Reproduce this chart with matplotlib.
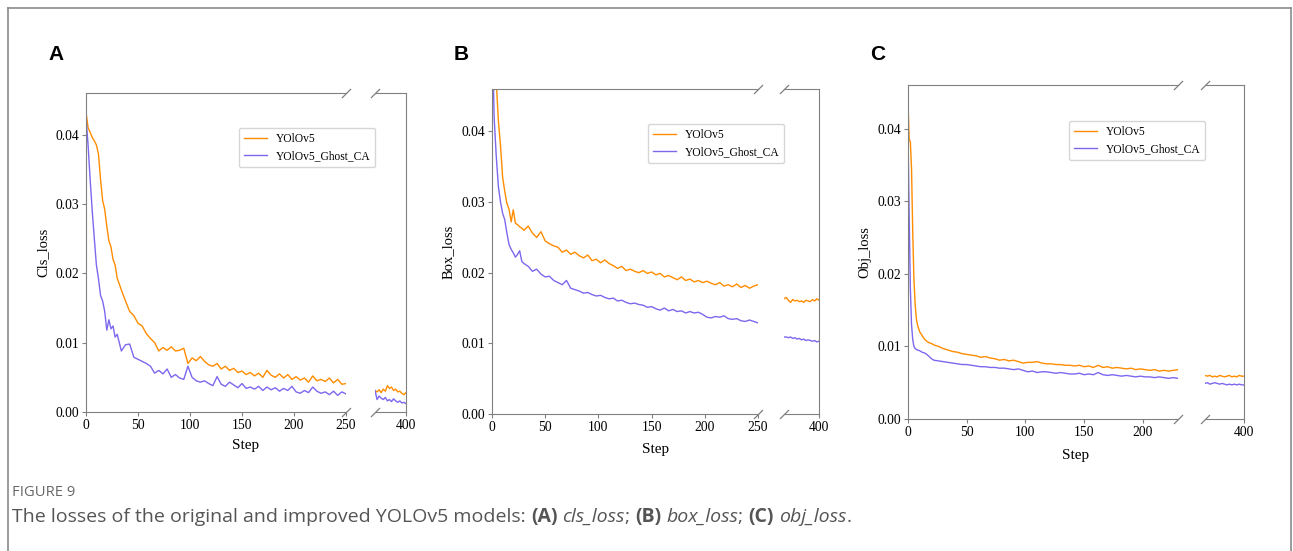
import matplotlib as mpl
mpl.use('Agg')
import matplotlib.pyplot as plt
import matplotlib.ticker as ticker
from matplotlib.lines import Line2D

mpl.rcParams['font.family'] = 'serif'
mpl.rcParams['font.serif'] = ['Liberation Serif', 'DejaVu Serif']

SERIES = ["YOlOv5", "YOlOv5_Ghost_CA"]
COLORS = ['#ff8c00', '#7b68ee']
SPINE = '#808080'

# ---- panel A : cls_loss ----
A_STEPS = [0, 2, 4, 6, 8, 10, 12, 14, 16, 18, 20, 22, 24, 26, 28] + list(range(30, 251, 4))
A_ORANGE = [0.0433, 0.0410, 0.0403, 0.0396, 0.0391, 0.0385, 0.0372, 0.0335, 0.0305, 0.0292,
            0.0268, 0.0247, 0.0238, 0.0220, 0.0212,
            0.0193, 0.0176, 0.0160, 0.0145, 0.0139, 0.0128, 0.0124, 0.0113, 0.0106, 0.0100,
            0.0088, 0.0093, 0.0089, 0.0094, 0.0088, 0.0089, 0.0092, 0.0070, 0.0078, 0.0074,
            0.0080, 0.0073, 0.0068, 0.0066, 0.0070, 0.0062, 0.0066, 0.0060, 0.0063, 0.0057,
            0.0059, 0.0054, 0.0057, 0.0052, 0.0056, 0.0050, 0.0060, 0.0053, 0.0050, 0.0055,
            0.0049, 0.0054, 0.0047, 0.0051, 0.0046, 0.0049, 0.0043, 0.0052, 0.0045, 0.0047,
            0.0044, 0.0049, 0.0042, 0.0047, 0.0040, 0.0041]
A_PURPLE = [0.0425, 0.0385, 0.0335, 0.0290, 0.0250, 0.0212, 0.0192, 0.0168, 0.0160, 0.0145,
            0.0118, 0.0133, 0.0120, 0.0124, 0.0108,
            0.0112, 0.0088, 0.0097, 0.0098, 0.0079, 0.0076, 0.0073, 0.0070, 0.0066, 0.0056,
            0.0060, 0.0055, 0.0062, 0.0050, 0.0054, 0.0049, 0.0047, 0.0066, 0.0050, 0.0045,
            0.0043, 0.0045, 0.0041, 0.0038, 0.0051, 0.0040, 0.0037, 0.0043, 0.0039, 0.0035,
            0.0041, 0.0034, 0.0036, 0.0033, 0.0037, 0.0031, 0.0036, 0.0032, 0.0035, 0.0030,
            0.0034, 0.0031, 0.0037, 0.0029, 0.0027, 0.0031, 0.0028, 0.0036, 0.0030, 0.0027,
            0.0029, 0.0025, 0.0030, 0.0024, 0.0029, 0.0026]
A_TAIL_STEPS = list(range(370, 401, 2))
A_ORANGE_TAIL = [0.0031, 0.0029, 0.0032, 0.0028, 0.0033, 0.0030, 0.0038, 0.0034, 0.0036, 0.0031,
                 0.0033, 0.0029, 0.0030, 0.0027, 0.0025, 0.0028]
A_PURPLE_TAIL = [0.0031, 0.0018, 0.0023, 0.0020, 0.0018, 0.0021, 0.0016, 0.0018, 0.0015, 0.0019,
                 0.0016, 0.0014, 0.0016, 0.0013, 0.0014, 0.0012]

# ---- panel B : box_loss ----
B_STEPS = A_STEPS
B_ORANGE = [0.0660, 0.0560, 0.0470, 0.0415, 0.0380, 0.0335, 0.0315, 0.0298, 0.0290, 0.0272,
            0.0289, 0.0270, 0.0268, 0.0265, 0.0263,
            0.0260, 0.0266, 0.0256, 0.0250, 0.0258, 0.0245, 0.0241, 0.0238, 0.0236, 0.0229,
            0.0232, 0.0226, 0.0229, 0.0224, 0.0221, 0.0225, 0.0217, 0.0219, 0.0214, 0.0218,
            0.0213, 0.0210, 0.0206, 0.0209, 0.0203, 0.0205, 0.0202, 0.0200, 0.0203, 0.0199,
            0.0201, 0.0197, 0.0199, 0.0194, 0.0196, 0.0193, 0.0190, 0.0194, 0.0189, 0.0191,
            0.0187, 0.0189, 0.0186, 0.0188, 0.0185, 0.0183, 0.0186, 0.0181, 0.0183, 0.0180,
            0.0184, 0.0179, 0.0182, 0.0178, 0.0181, 0.0183]
B_PURPLE = [0.0560, 0.0420, 0.0365, 0.0322, 0.0300, 0.0284, 0.0275, 0.0256, 0.0240, 0.0233,
            0.0228, 0.0222, 0.0226, 0.0231, 0.0216,
            0.0213, 0.0209, 0.0202, 0.0205, 0.0198, 0.0194, 0.0195, 0.0189, 0.0186, 0.0183,
            0.0189, 0.0178, 0.0176, 0.0174, 0.0171, 0.0172, 0.0169, 0.0167, 0.0168, 0.0165,
            0.0163, 0.0164, 0.0160, 0.0161, 0.0158, 0.0156, 0.0157, 0.0155, 0.0154, 0.0151,
            0.0152, 0.0149, 0.0147, 0.0150, 0.0146, 0.0148, 0.0145, 0.0146, 0.0143, 0.0145,
            0.0143, 0.0144, 0.0141, 0.0137, 0.0136, 0.0138, 0.0137, 0.0139, 0.0135, 0.0134,
            0.0135, 0.0132, 0.0131, 0.0133, 0.0131, 0.0129]
B_TAIL_STEPS = list(range(368, 401, 2))
B_ORANGE_TAIL = [0.0163, 0.0165, 0.0161, 0.0158, 0.0162, 0.0160, 0.0161, 0.0159, 0.0160, 0.0158,
                 0.0161, 0.0160, 0.0159, 0.0162, 0.0160, 0.0163, 0.0161]
B_PURPLE_TAIL = [0.0109, 0.0109, 0.0108, 0.0109, 0.0107, 0.0108, 0.0106, 0.0107, 0.0105, 0.0106,
                 0.0104, 0.0105, 0.0104, 0.0103, 0.0104, 0.0102, 0.0103]

# ---- panel C : obj_loss ----
C_STEPS = [0, 1, 2, 3, 4, 5, 6, 7, 8, 10, 12, 14, 16, 18, 20] + list(range(22, 231, 4))
C_ORANGE = [0.0437, 0.0385, 0.0382, 0.0345, 0.0260, 0.0195, 0.0160, 0.0140, 0.0130, 0.0120,
            0.0115, 0.0110, 0.0107, 0.0105, 0.0104,
            0.0102, 0.0100, 0.0097, 0.0095, 0.0093, 0.0092, 0.0090, 0.0089, 0.0088, 0.0087,
            0.0085, 0.0086, 0.0084, 0.0083, 0.0081, 0.0082, 0.0080, 0.0081, 0.0079, 0.0077,
            0.0078, 0.0078, 0.0079, 0.0077, 0.0076, 0.0076, 0.0075, 0.0075, 0.0074, 0.0074,
            0.0073, 0.0074, 0.0072, 0.0073, 0.0071, 0.0074, 0.0071, 0.0072, 0.0070, 0.0071,
            0.0070, 0.0069, 0.0070, 0.0068, 0.0069, 0.0068, 0.0067, 0.0068, 0.0066, 0.0067,
            0.0066, 0.0067, 0.0068]
C_PURPLE = [0.0390, 0.0280, 0.0180, 0.0130, 0.0110, 0.0100, 0.0097, 0.0096, 0.0095, 0.0094,
            0.0092, 0.0091, 0.0089, 0.0086, 0.0083,
            0.0081, 0.0080, 0.0079, 0.0078, 0.0077, 0.0076, 0.0075, 0.0075, 0.0074, 0.0073,
            0.0072, 0.0072, 0.0071, 0.0071, 0.0070, 0.0070, 0.0069, 0.0068, 0.0069, 0.0067,
            0.0065, 0.0066, 0.0064, 0.0065, 0.0065, 0.0064, 0.0063, 0.0064, 0.0063, 0.0062,
            0.0062, 0.0063, 0.0061, 0.0062, 0.0061, 0.0064, 0.0061, 0.0060, 0.0061, 0.0060,
            0.0059, 0.0060, 0.0059, 0.0058, 0.0059, 0.0058, 0.0058, 0.0057, 0.0058, 0.0057,
            0.0056, 0.0057, 0.0056]
C_TAIL_STEPS = list(range(368, 401, 2))
C_ORANGE_TAIL = [0.0060, 0.0059, 0.0060, 0.0058, 0.0059, 0.0058, 0.0060, 0.0059, 0.0058, 0.0059,
                 0.0060, 0.0058, 0.0059, 0.0058, 0.0060, 0.0059, 0.0059]
C_PURPLE_TAIL = [0.0049, 0.0050, 0.0048, 0.0049, 0.0050, 0.0049, 0.0048, 0.0049, 0.0048, 0.0047,
                 0.0048, 0.0047, 0.0048, 0.0047, 0.0048, 0.0047, 0.0047]

Y_TICKS = [0.0, 0.01, 0.02, 0.03, 0.04]
CAPTION_HEAD = "FIGURE 9"
CAPTION = [("The losses of the original and improved YOLOv5 models: ", 'normal', 'normal'),
           ("(A)", 'bold', 'normal'), (" ", 'normal', 'normal'), ("cls_loss", 'normal', 'italic'),
           ("; ", 'normal', 'normal'), ("(B)", 'bold', 'normal'), (" ", 'normal', 'normal'),
           ("box_loss", 'normal', 'italic'), ("; ", 'normal', 'normal'), ("(C)", 'bold', 'normal'),
           (" ", 'normal', 'normal'), ("obj_loss", 'normal', 'italic'), (".", 'normal', 'normal')]

W, H = 1293, 551
fig = plt.figure(figsize=(W / 100, H / 100), dpi=100)


def px_axes(l, t, r, b):
    return fig.add_axes([l / W, 1 - b / H, (r - l) / W, (b - t) / H])


def draw_panel(letter, main_box, tail_box, steps, orange, purple, tail_steps, orange_tail,
               purple_tail, main_xlim, xticks, ylabel, leg_xy, step_y):
    ax = px_axes(*main_box)
    ax2 = px_axes(*tail_box)
    ax2.patch.set_visible(False)
    ax.set_zorder(2)  # legend may run over the tail axes
    for a, xs, ys in ((ax, steps, (orange, purple)), (ax2, tail_steps, (orange_tail, purple_tail))):
        for y, c, lab in zip(ys, COLORS, SERIES):
            a.plot(xs, y, color=c, lw=1.0, label=lab)
        a.set_ylim(0, 0.046)
        for s in a.spines.values():
            s.set_color(SPINE)
        a.tick_params(color=SPINE, labelsize=9.8, length=3, width=0.8, pad=2)
    ax.set_xlim(*main_xlim)
    ax.set_xticks(xticks)
    ax.set_yticks(Y_TICKS)
    ax.yaxis.set_major_formatter(ticker.FormatStrFormatter('%.2f'))
    ax.spines['right'].set_visible(False)
    ax2.set_xlim(tail_steps[0], 400)
    ax2.set_xticks([400])
    ax2.set_yticks([])
    ax2.spines['left'].set_visible(False)

    kw = dict(marker=[(-1, -1), (1, 1)], markersize=6.5, linestyle='none', color=SPINE,
              mec=SPINE, mew=0.9, clip_on=False)
    ax.plot([1, 1], [0, 1], transform=ax.transAxes, **kw)
    ax2.plot([0, 0], [0, 1], transform=ax2.transAxes, **kw)

    ax.set_ylabel(ylabel, fontsize=10.5)
    wpx = main_box[2] - main_box[0]
    ax.yaxis.set_label_coords(-37 / wpx, 0.5)
    fig.text((main_box[0] + tail_box[2]) / 2 / W, 1 - step_y / H, "Step", fontsize=11,
             ha='center', va='center')
    fig.text((main_box[0] - 38) / W, 1 - 55 / H, letter, family='Liberation Sans',
             fontweight='bold', fontsize=15, ha='left', va='center')
    ax.legend(loc='upper left', bbox_to_anchor=(leg_xy[0] / W, 1 - leg_xy[1] / H),
              bbox_transform=fig.transFigure, borderaxespad=0, fontsize=8.3,
              handlelength=2.0)


draw_panel("A", (86, 93, 346, 412), (375, 93, 406, 412), A_STEPS, A_ORANGE, A_PURPLE,
           A_TAIL_STEPS, A_ORANGE_TAIL, A_PURPLE_TAIL, (0, 250), [0, 50, 100, 150, 200, 250],
           "Cls_loss", (239, 128), 446)
draw_panel("B", (492, 89, 758, 414), (784, 89, 819, 414), B_STEPS, B_ORANGE, B_PURPLE,
           B_TAIL_STEPS, B_ORANGE_TAIL, B_PURPLE_TAIL, (0, 250), [0, 50, 100, 150, 200, 250],
           "Box_loss", (648, 124), 449)
draw_panel("C", (908, 85, 1178, 419), (1205, 85, 1244, 419), C_STEPS, C_ORANGE, C_PURPLE,
           C_TAIL_STEPS, C_ORANGE_TAIL, C_PURPLE_TAIL, (0, 230), [0, 50, 100, 150, 200],
           "Obj_loss", (1069, 121), 455)

# outer frame (open at the bottom)
fx = lambda v: v / W
fy = lambda v: 1 - v / H
for xs, ys in (([8, 8], [8, H]), ([8, 1291], [8, 8]), ([1291, 1291], [8, H])):
    fig.add_artist(Line2D([fx(v) for v in xs], [fy(v) for v in ys], color='#8a8a8a', lw=1.2))

# caption
fig.text(12 / W, fy(492), CAPTION_HEAD, family='Open Sans', fontsize=10.6, color='#666666',
         va='center')
renderer = fig.canvas.get_renderer()
x = 12
for txt, wt, st in CAPTION:
    t = fig.text(x / W, fy(517), txt, family='Open Sans', fontsize=14, color='#555555',
                 fontweight=wt, fontstyle=st, va='center')
    x += t.get_window_extent(renderer).width

fig.savefig('out.png', dpi=100)
